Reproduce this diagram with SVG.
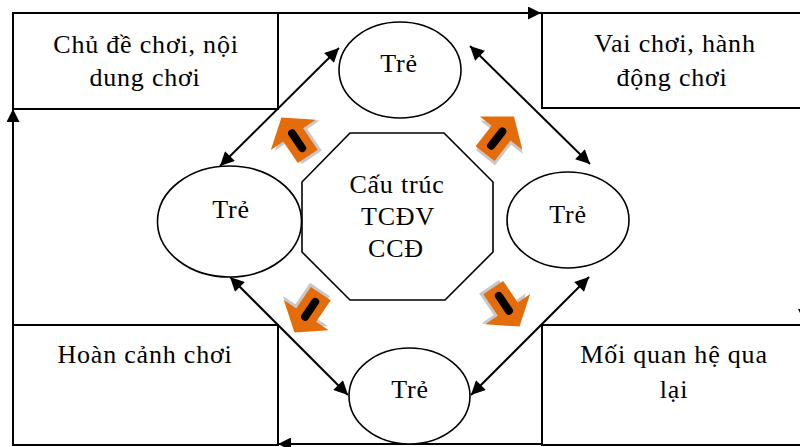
<svg xmlns="http://www.w3.org/2000/svg" width="800" height="447" viewBox="0 0 800 447">
<style>
  .box{fill:#fff;stroke:#000;stroke-width:2}
  .node{fill:#fff;stroke:#000;stroke-width:1.6}
  .t{font-family:"Liberation Serif","Times New Roman",serif;font-size:26px;fill:#000;text-anchor:middle;letter-spacing:0.8px}
  .dbl{stroke:#000;stroke-width:2;fill:none;marker-start:url(#ah);marker-end:url(#ah)}
  .loop{stroke:#000;stroke-width:2;fill:none;marker-end:url(#ah2)}
  .orange{fill:#E46C0A}
  .shadow{fill:#C8C8C8}
</style>
<defs>
  <marker id="ah" viewBox="0 0 10 10" refX="10" refY="5" markerWidth="16" markerHeight="14" markerUnits="userSpaceOnUse" orient="auto-start-reverse">
    <path d="M0,0 L10,5 L0,10 z" fill="#000"/>
  </marker>
  <marker id="ah2" viewBox="0 0 10 10" refX="10" refY="5" markerWidth="13" markerHeight="13" markerUnits="userSpaceOnUse" orient="auto">
    <path d="M0,0 L10,5 L0,10 z" fill="#000"/>
  </marker>
  <g id="blk">
    <path class="shadow" transform="translate(3,3)" d="M0,-26 L27,-5 L12,-5 L12,21 L-12,21 L-12,-5 L-27,-5 z"/>
    <path class="orange" d="M0,-26 L27,-5 L12,-5 L12,21 L-12,21 L-12,-5 L-27,-5 z"/>
    <rect x="-4" y="-11" width="8" height="26" rx="4" fill="#000"/>
  </g>
</defs>
<rect width="800" height="447" fill="#fff"/>

<g id="connectors">
  <line class="loop" x1="278" y1="13" x2="541" y2="13"/>
  <line class="loop" x1="13" y1="325" x2="13" y2="109"/>
  <line class="loop" x1="820" y1="444" x2="278" y2="444"/>
  <polygon points="798,309 814,309 806,325" fill="#000"/>
  <line class="dbl" x1="220" y1="166" x2="339" y2="48"/>
  <line class="dbl" x1="470" y1="46" x2="590" y2="164"/>
  <line class="dbl" x1="230" y1="277" x2="348" y2="395"/>
  <line class="dbl" x1="589" y1="277" x2="471" y2="395"/>
</g>

<g id="box-chude">
  <rect class="box" x="13" y="13" width="265" height="96"/>
  <text class="t" x="146" y="53">Chủ đề chơi, nội</text>
  <text class="t" x="145" y="86">dung chơi</text>
</g>
<g id="box-vaichoi">
  <rect class="box" x="542" y="13" width="300" height="95"/>
  <text class="t" x="675" y="52">Vai chơi, hành</text>
  <text class="t" x="672" y="86">động chơi</text>
</g>
<g id="box-hoancanh">
  <rect class="box" x="13" y="325" width="265" height="120"/>
  <text class="t" x="145" y="363">Hoàn cảnh chơi</text>
</g>
<g id="box-moiquanhe">
  <rect class="box" x="542" y="325" width="300" height="120"/>
  <text class="t" x="674" y="363">Mối quan hệ qua</text>
  <text class="t" x="674" y="398">lại</text>
</g>

<g id="center">
  <polygon class="node" points="350,133 444,133 493,182 493,252 445,300 350,300 302,252 302,182"/>
  <text class="t" x="397" y="193">Cấu trúc</text>
  <text class="t" x="398" y="225">TCĐV</text>
  <text class="t" x="396" y="257">CCĐ</text>
</g>

<g id="tre-top">
  <ellipse class="node" cx="400" cy="70" rx="61" ry="48"/>
  <text class="t" x="399" y="72">Trẻ</text>
</g>
<g id="tre-left">
  <ellipse class="node" cx="229.5" cy="221.5" rx="72" ry="55.5"/>
  <text class="t" x="231" y="218">Trẻ</text>
</g>
<g id="tre-right">
  <ellipse class="node" cx="568" cy="220" rx="61" ry="48"/>
  <text class="t" x="568" y="223">Trẻ</text>
</g>
<g id="tre-bottom">
  <ellipse class="node" cx="409.5" cy="396" rx="60.5" ry="48"/>
  <text class="t" x="410" y="398">Trẻ</text>
</g>

<g id="arrow-nw"><use href="#blk" transform="translate(296,139) rotate(-34)"/></g>
<g id="arrow-ne"><use href="#blk" transform="translate(498,137) rotate(38)"/></g>
<g id="arrow-sw"><use href="#blk" transform="translate(309,311) rotate(-146)"/></g>
<g id="arrow-se"><use href="#blk" transform="translate(505,305) rotate(146)"/></g>
</svg>
